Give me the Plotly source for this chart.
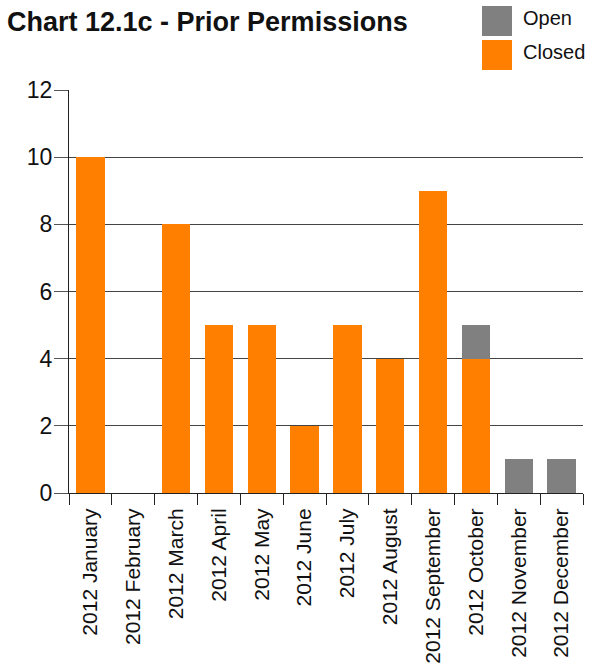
import plotly.graph_objects as go

# Monthly counts of prior permission cases, split by status
months = ["2012 January", "2012 February", "2012 March", "2012 April",
          "2012 May", "2012 June", "2012 July", "2012 August",
          "2012 September", "2012 October", "2012 November", "2012 December"]
closed = [10, 0, 8, 5, 5, 2, 5, 4, 9, 4, 0, 0]
open_ = [0, 0, 0, 0, 0, 0, 0, 0, 0, 1, 1, 1]
y_ticks = [0, 2, 4, 6, 8, 10, 12]

ORANGE = "#ff8000"
GREY = "#808080"
FONT = "Liberation Sans, Arial, sans-serif"

fig = go.Figure()
fig.add_trace(go.Bar(x=months, y=closed, name="Closed", marker_color=ORANGE,
                     marker_line_width=0))
fig.add_trace(go.Bar(x=months, y=open_, name="Open", marker_color=GREY,
                     marker_line_width=0))

W, H = 606, 664
L, R, T, B = 69, 23, 90, 171
pw, ph = W - L - R, H - T - B


def px_x(x):
    return (x - L) / pw


def px_y(y):
    return 1 - (y - T) / ph


shapes = []
annotations = []
# Legend: coloured squares with labels, top right
for label, color, top in [("Open", GREY, 6), ("Closed", ORANGE, 40)]:
    shapes.append(dict(type="rect", xref="paper", yref="paper",
                       x0=px_x(482), x1=px_x(512), y0=px_y(top + 30), y1=px_y(top),
                       fillcolor=color, line_width=0))
    annotations.append(dict(text=label, xref="paper", yref="paper",
                            x=px_x(521), y=px_y(top + 12), xanchor="left",
                            yanchor="middle", showarrow=False,
                            font=dict(family=FONT, size=20, color="#111")))

fig.update_layout(
    width=W, height=H,
    margin=dict(l=L, r=R, t=T, b=B, pad=0, autoexpand=False),
    paper_bgcolor="white", plot_bgcolor="white",
    barmode="stack", bargap=0.34,
    showlegend=False,
    title=dict(text="<b>Chart 12.1c - Prior Permissions</b>",
               xref="container", yref="container",
               x=7 / W, xanchor="left", y=1 - 22 / H, yanchor="middle",
               font=dict(family=FONT, size=27, color="#111")),
    shapes=shapes,
    annotations=annotations,
    font=dict(family=FONT, color="#111"),
)

fig.update_xaxes(
    type="category", tickangle=-90, tickson="boundaries",
    ticks="outside", ticklen=11, tickcolor="#222", tickwidth=1,
    showline=True, linecolor="#222", linewidth=1,
    showgrid=False, automargin=False, ticklabelstandoff=6,
    tickfont=dict(family=FONT, size=21, color="#111"),
)
fig.update_yaxes(
    range=[0, 12], tickvals=y_ticks,
    ticks="outside", ticklen=14, tickcolor="#555", tickwidth=1,
    showline=True, linecolor="#222", linewidth=1,
    showgrid=True, gridcolor="#444", gridwidth=1,
    zeroline=False, automargin=False, ticklabelstandoff=-3,
    tickfont=dict(family=FONT, size=23, color="#111"),
)

fig.write_html("out.html")
